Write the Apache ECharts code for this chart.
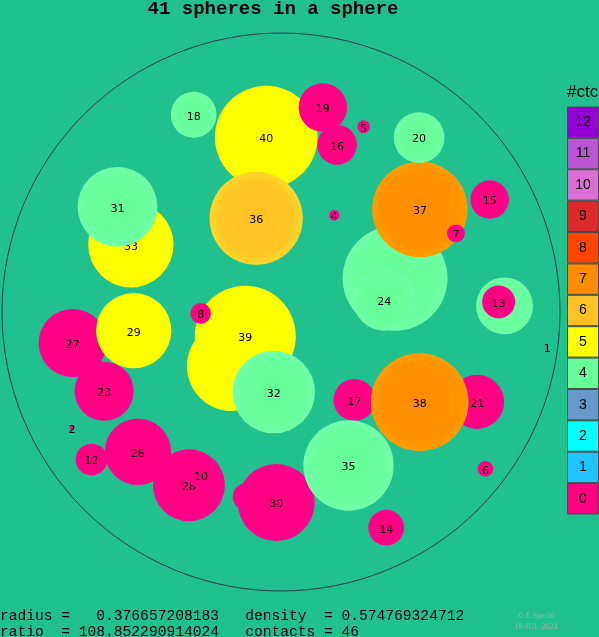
<!DOCTYPE html>
<html>
<head>
<meta charset="utf-8">
<title>41 spheres in a sphere</title>
<script src="https://cdn.jsdelivr.net/npm/echarts@6/dist/echarts.min.js"></script>
<style>
  html, body { margin: 0; padding: 0; background: #20C08F; }
  #chart { width: 599px; height: 637px; }
</style>
</head>
<body>
<div id="chart"></div>
<script>
// spheres, listed from back to front (container radius = 1, centre = 0,0)
var sphereIds  = [41, 22, 34, 11, 40, 16, 33, 27, 28, 12, 17, 21, 37, 24, 13, 39, 32, 30, 36, 19,
                  31, 29, 23, 38, 10, 26, 7, 1, 2, 4, 5, 6, 8, 14, 15, 18, 20, 35];
var sphereX    = [0.409, 0.801, -0.176, -0.125, -0.053, 0.201, -0.538, -0.747, -0.330, -0.679, 0.263, 0.703, 0.498, 0.370, 0.780, -0.128, -0.026, -0.017, -0.089, 0.150,
                  -0.586, -0.528, -0.634, 0.497, -0.287, -0.513, 0.627, 0.954, -0.749, 0.191, 0.296, 0.733, -0.288, 0.377, 0.748, -0.313, 0.495, 0.242];
var sphereY    = [0.121, 0.022, -0.194, -0.662, 0.627, 0.599, 0.241, -0.111, -0.621, -0.529, -0.315, -0.322, 0.368, 0.044, 0.036, -0.087, -0.287, -0.683, 0.336, 0.733,
                  0.377, -0.067, -0.284, -0.323, -0.584, -0.501, 0.282, -0.127, -0.416, 0.347, 0.664, -0.562, -0.005, -0.773, 0.403, 0.707, 0.625, -0.550];
var sphereR    = [0.188, 0.102, 0.161, 0.048, 0.184, 0.071, 0.153, 0.122, 0.129, 0.057, 0.075, 0.097, 0.171, 0.111, 0.059, 0.181, 0.148, 0.138, 0.167, 0.087,
                  0.143, 0.135, 0.106, 0.175, 0.047, 0.119, 0.032, 0.004, 0.008, 0.019, 0.023, 0.028, 0.037, 0.064, 0.069, 0.082, 0.091, 0.162];
var sphereCtc  = [4, 4, 5, 0, 5, 0, 5, 0, 0, 0, 0, 0, 7, 4, 0, 5, 4, 0, 6, 0,
                  4, 5, 0, 7, 0, 0, 0, 0, 0, 0, 0, 0, 0, 0, 0, 4, 4, 4];
var sphereShowLabel = [0, 0, 0, 0, 1, 1, 1, 1, 1, 1, 1, 1, 1, 1, 1, 1, 1, 1, 1, 1,
                  1, 1, 1, 1, 1, 1, 1, 1, 1, 1, 1, 1, 1, 1, 1, 1, 1, 1];

// legend: number of contacts and colours
var ctcLevels = ['0', '1', '2', '3', '4', '5', '6', '7', '8', '9', '10', '11', '12'];
var ctcColors = ['#FF0080', '#22C4FF', '#00FFFF', '#6699CC', '#66FF99', '#FFFF00', '#FFC125',
                 '#FF8C00', '#FF4500', '#DC2A2A', '#DA70D6', '#BA55D3', '#9400D3'];

var infoLine1 = 'radius =   0.376657208183   density  = 0.574769324712';
var infoLine2 = 'ratio  = 108.852290914024   contacts = 46';

var sphereData = [];
for (var i = 0; i < sphereIds.length; i++) {
  sphereData.push([sphereX[i], sphereY[i], sphereR[i], sphereCtc[i], sphereIds[i], sphereShowLabel[i]]);
}

var myChart = echarts.init(document.getElementById('chart'));

var option = {
  backgroundColor: '#20C08F',
  animation: false,
  grid: [
    { left: 2, top: 33, width: 558, height: 558 },
    { left: 567, top: 106.5, width: 34, height: 408 }
  ],
  xAxis: [
    { type: 'value', min: -1, max: 1, show: false, gridIndex: 0 },
    { type: 'value', min: 0, max: 1, show: false, gridIndex: 1 }
  ],
  yAxis: [
    { type: 'value', min: -1, max: 1, show: false, gridIndex: 0 },
    { type: 'category', data: ctcLevels, show: false, gridIndex: 1 }
  ],
  graphic: [
    { type: 'text', x: 273, y: 9, style: { text: '41 spheres in a sphere', align: 'center', verticalAlign: 'middle',
        font: 'bold 19px "Liberation Mono"', fill: '#000' } },
    { type: 'text', x: 567, y: 92, style: { text: '#ctc', verticalAlign: 'middle',
        font: '17px "Liberation Sans"', fill: '#000' } },
    { type: 'text', x: 0, y: 616, style: { text: infoLine1, verticalAlign: 'middle',
        font: '14.6px "Liberation Mono"', fill: '#000' } },
    { type: 'text', x: 0, y: 632, style: { text: infoLine2, verticalAlign: 'middle',
        font: '14.6px "Liberation Mono"', fill: '#000' } },
    { type: 'text', x: 536, y: 616, style: { text: '\u00a9 E.Specht', align: 'center', verticalAlign: 'middle',
        font: '8px "Liberation Serif"', fill: '#8FBBA8' } },
    { type: 'text', x: 536, y: 627, style: { text: '18-JUL-2024', align: 'center', verticalAlign: 'middle',
        font: '8px "Liberation Serif"', fill: '#8FBBA8' } }
  ],
  series: [
    {
      // container sphere
      type: 'custom',
      xAxisIndex: 0, yAxisIndex: 0,
      silent: true,
      data: [[0, 0, 1]],
      renderItem: function (params, api) {
        var c = api.coord([api.value(0), api.value(1)]);
        var r = api.size([api.value(2), 0])[0];
        return { type: 'circle', shape: { cx: c[0], cy: c[1], r: r },
          style: { fill: null, stroke: '#1E3E48', lineWidth: 1 } };
      }
    },
    {
      type: 'custom',
      xAxisIndex: 0, yAxisIndex: 0,
      silent: true,
      data: sphereData,
      renderItem: function (params, api) {
        var c = api.coord([api.value(0), api.value(1)]);
        var r = api.size([api.value(2), 0])[0];
        var col = ctcColors[api.value(3)];
        var children = [{
          type: 'circle',
          shape: { cx: c[0], cy: c[1], r: r },
          style: {
            fill: { type: 'radial', x: 0.5, y: 0.5, r: 0.5, colorStops: [
              { offset: 0, color: col },
              { offset: 0.8, color: echarts.color.lift(col, -0.04) },
              { offset: 1, color: echarts.color.lift(col, -0.12) }
            ] }
          }
        }];
        if (api.value(5)) {
          children.push({
            type: 'text', x: c[0], y: c[1] + 2,
            style: { text: String(api.value(4)), align: 'center', verticalAlign: 'middle',
              font: '11px "DejaVu Sans"', fill: '#000' }
          });
        }
        return { type: 'group', children: children };
      }
    },
    {
      // colour legend
      type: 'bar',
      xAxisIndex: 1, yAxisIndex: 1,
      silent: true,
      barWidth: '100%',
      data: ctcLevels.map(function (lv, k) {
        return { value: 1, itemStyle: { color: ctcColors[k] } };
      }),
      itemStyle: { borderColor: '#4A4A4A', borderWidth: 1 },
      label: { show: true, position: 'inside', formatter: '{b}', color: '#000',
        fontSize: 14, fontFamily: 'Liberation Sans' }
    }
  ]
};
myChart.setOption(option);
</script>
</body>
</html>
